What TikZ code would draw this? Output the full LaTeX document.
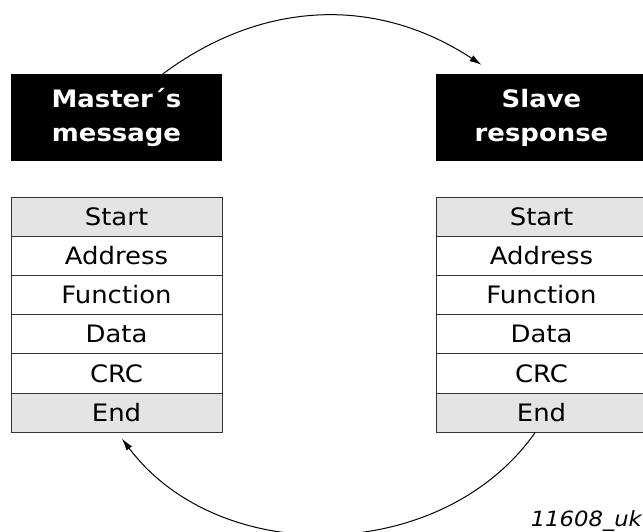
\documentclass[tikz,border=0pt]{standalone}
\usepackage{fontspec}
\setmainfont{DejaVu Sans}[FakeStretch=1.08]
\usetikzlibrary{arrows.meta}
\definecolor{rowgray}{HTML}{E4E4E4}
\definecolor{linegray}{HTML}{333333}
\tikzset{
  header/.style={fill=black, text=white, inner sep=0pt, minimum width=211pt, minimum height=87pt,
    align=center, font=\fontsize{24}{34}\selectfont\bfseries},
  row/.style={draw=linegray, line width=1pt, fill=white, inner sep=0pt, minimum width=211pt,
    minimum height=39.2pt, font=\fontsize{24}{29}\selectfont},
  grayrow/.style={row, fill=rowgray},
  flow/.style={line width=1pt, -{Latex[length=12pt,width=7pt]}},
  tag/.style={font=\fontsize{21}{25}\selectfont\itshape, inner sep=0pt}
}
\begin{document}
\begin{tikzpicture}[x=1pt,y=-1pt]
\useasboundingbox (0,0) rectangle (643,531);
% headers
\node[header] (mh) at (116.5,117.5) {Master´s\\message};
\node[header] (sr) at (541.5,117.5) {Slave\\response};
% left table
\node[grayrow] (lStart) at (116.5,216.6) {Start};
\node[row] (lAddr) at (116.5,255.8) {Address};
\node[row] (lFunc) at (116.5,295.0) {Function};
\node[row] (lData) at (116.5,334.2) {Data};
\node[row] (lCRC) at (116.5,373.4) {CRC};
\node[grayrow] (lEnd) at (116.5,412.6) {End};
% right table
\node[grayrow] (rStart) at (541.5,216.6) {Start};
\node[row] (rAddr) at (541.5,255.8) {Address};
\node[row] (rFunc) at (541.5,295.0) {Function};
\node[row] (rData) at (541.5,334.2) {Data};
\node[row] (rCRC) at (541.5,373.4) {CRC};
\node[grayrow] (rEnd) at (541.5,412.6) {End};
% arcs
\draw[flow] ([xshift=46.5pt]mh.north) to[bend left=35] ([xshift=-60pt,yshift=9pt]sr.north);
\draw[flow] ([xshift=-6.5pt]rEnd.south) to[bend left=54] ([xshift=5.5pt,yshift=-6pt]lEnd.south);
% tag
\node[tag, anchor=base east] (tag) at (642,526) {11608\_uk};
\end{tikzpicture}
\end{document}
